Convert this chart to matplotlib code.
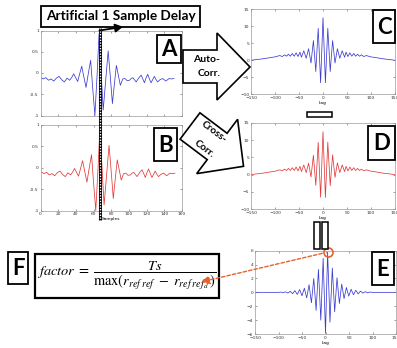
import numpy as np
import matplotlib
matplotlib.use('Agg')
import matplotlib.pyplot as plt
from matplotlib.patches import Polygon, Rectangle, FancyArrowPatch, ConnectionPatch
from matplotlib.lines import Line2D

# ---------------- data ----------------
a_samples = [0, 3, 6, 9, 12, 15, 18, 21, 24, 27, 30, 33, 35.5, 37.5, 40, 42,
             44.3, 46.6, 49, 51.5, 54, 56.7, 59, 61.5, 64, 66.2, 68.5, 70.9,
             73.7, 76.5, 79, 81.3, 83.5, 85.8, 88, 90.3, 93, 95.5, 98, 100.7,
             102.5, 104.4, 106.3, 108.2, 111, 113.8, 115.7, 117.5, 119.3, 121.2,
             123, 125, 127, 128.7, 130.5, 132.4, 135, 138, 140, 141.7, 143.5,
             145.5, 148, 151]
a_values = [-0.10, -0.14, -0.11, -0.17, -0.14, -0.19, -0.12, -0.08, -0.16, -0.21,
            -0.12, -0.17, -0.10, -0.02, -0.12, -0.20,
            -0.02, 0.16, -0.09, -0.34, -0.02, 0.30, -0.35, -1.00, -0.04, 0.92,
            0.02, -0.87, -0.18, 0.52, -0.10, -0.72, -0.27, 0.18, -0.05, -0.29,
            -0.14, -0.13, -0.18, -0.17, -0.13, -0.11, -0.16, -0.21, -0.12, -0.05,
            -0.14, -0.23, -0.12, -0.03, -0.13, -0.23, -0.15, -0.08, -0.15, -0.21,
            -0.16, -0.13, -0.16, -0.19, -0.16, -0.13, -0.14, -0.13]
delay_samples = 1
b_samples = np.array(a_samples) + delay_samples
b_values = a_values

c_lags = [-150, -140, -130, -120, -110, -100, -90, -85, -80, -76, -72, -68, -64,
          -60, -56, -52, -48, -45, -40, -35, -30, -25, -20, -15, -10, -5, 0,
          5, 10, 15, 20, 25, 30, 35, 40, 45, 48, 52, 56, 60, 64, 68, 72, 76,
          80, 85, 90, 100, 110, 120, 130, 140, 150]
c_values = [0.0, 0.2, 0.35, 0.55, 0.8, 1.0, 1.4, 1.1, 1.6, 1.2, 1.8, 1.2, 2.0,
            1.2, 2.2, 1.1, 2.4, 0.9, 2.8, 0.6, 3.4, -0.8, 5.8, -3.3, 9.4, -6.6, 12.5,
            -6.6, 9.4, -3.3, 5.8, -0.8, 3.4, 0.6, 2.8, 0.9, 2.4, 1.1, 2.2, 1.2, 2.0,
            1.2, 1.8, 1.2, 1.6, 1.1, 1.4, 1.0, 0.8, 0.55, 0.35, 0.2, 0.0]
d_values = [0.0, 0.2, 0.35, 0.55, 0.8, 1.0, 1.4, 1.1, 1.6, 1.2, 1.8, 1.2, 2.0,
            1.2, 2.2, 1.1, 2.4, 0.9, 2.8, 0.6, 3.3, -0.7, 5.6, -3.1, 9.3, -6.5, 12.4,
            -6.6, 9.4, -3.2, 5.7, -0.8, 3.4, 0.6, 2.8, 0.9, 2.4, 1.1, 2.2, 1.2, 2.0,
            1.2, 1.8, 1.2, 1.6, 1.1, 1.4, 1.0, 0.8, 0.55, 0.35, 0.2, 0.0]

e_lags = [-150, -100, -95, -90, -85, -80, -75, -70, -65, -60, -55, -50, -45, -40,
          -35, -30, -25, -20, -15, -10, -5, 0, 4.5, 9.5, 14.5, 19.5, 24.5, 29.5,
          34.5, 39.5, 44.5, 49.5, 54.5, 59.5, 64.5, 69.5, 74.5, 79.5, 84.5, 89.5,
          94.5, 100, 150]
e_values = [0, 0, 0.04, -0.05, 0.08, -0.1, 0.15, -0.2, 0.25, -0.3, 0.4, -0.5, 0.6,
            -0.8, 1.1, -1.5, 2.0, -2.6, 3.3, -4.0, 4.9, -5.9, 5.8, -4.3, 3.5, -2.8,
            2.1, -1.6, 1.2, -0.9, 0.7, -0.55, 0.45, -0.35, 0.3, -0.22, 0.18, -0.12,
            0.1, -0.06, 0.04, 0, 0]
e_peak_lag, e_peak_value = 4.5, 5.8

sample_ticks = [0, 20, 40, 60, 80, 100, 120, 140, 160]
sig_yticks = [-1, -0.5, 0, 0.5, 1]
sig_ylabels = ['-1', '-0.5', '0', '0.5', '1']
lag_ticks = [-150, -100, -50, 0, 50, 100, 150]
corr_yticks = [-10, -5, 0, 5, 10, 15]
diff_yticks = [-6, -4, -2, 0, 2, 4, 6]

title_text = 'Artificial 1 Sample Delay'

# ---------------- figure ----------------
W, H = 397, 348
plt.rcParams['mathtext.fontset'] = 'stix'
fig = plt.figure(figsize=(W / 100, H / 100), dpi=100)
fig.patch.set_facecolor('white')

def F(x, y):
    return (x / W, 1 - y / H)

def R(l, t, r, b):
    return [l / W, 1 - b / H, (r - l) / W, (b - t) / H]

BLUE = '#3b3bd2'
RED = '#e23a3a'
ORANGE = '#e8602c'

def style(ax):
    ax.tick_params(direction='in', length=1.6, width=0.4, labelsize=3.2, pad=1.2,
                   top=True, right=True, colors='#555555', labelcolor='#333333')
    for s in ax.spines.values():
        s.set_linewidth(0.5)
        s.set_color('#9a9a9a')

# A
axA = fig.add_axes(R(40.5, 30.5, 182, 115.5))
axA.plot(a_samples, a_values, color=BLUE, lw=0.55)
axA.set_xlim(0, 160); axA.set_ylim(-1, 1)
axA.set_xticks(sample_ticks); axA.set_yticks(sig_yticks, sig_ylabels)
style(axA)
axA.tick_params(labelbottom=False)

# B
axB = fig.add_axes(R(40.5, 124.7, 182, 210.5))
axB.plot(b_samples, b_values, color=RED, lw=0.55)
axB.set_xlim(0, 160); axB.set_ylim(-1, 1)
axB.set_xticks(sample_ticks); axB.set_yticks(sig_yticks, sig_ylabels)
axB.set_xlabel('Samples', fontsize=3.2, labelpad=0.8)
style(axB)

# C
axC = fig.add_axes(R(251, 9.3, 395, 94.3))
axC.plot(c_lags, c_values, color=BLUE, lw=0.55)
axC.set_xlim(-150, 150); axC.set_ylim(-10, 15)
axC.set_xticks(lag_ticks); axC.set_yticks(corr_yticks)
axC.set_xlabel('Lag', fontsize=3.2, labelpad=0.8)
style(axC)

# D
axD = fig.add_axes(R(251, 122.7, 395, 209.3))
axD.plot(c_lags, d_values, color=RED, lw=0.55)
axD.set_xlim(-150, 150); axD.set_ylim(-10, 15)
axD.set_xticks(lag_ticks); axD.set_yticks(corr_yticks)
axD.set_xlabel('Lag', fontsize=3.2, labelpad=0.8)
style(axD)

# E
axE = fig.add_axes(R(255, 250.7, 396, 334))
axE.plot(e_lags, e_values, color=BLUE, lw=0.55)
axE.set_xlim(-150, 150); axE.set_ylim(-6, 6)
axE.set_xticks(lag_ticks); axE.set_yticks(diff_yticks)
axE.set_xlabel('Lag', fontsize=3.2, labelpad=0.8)
style(axE)
axE.plot([e_peak_lag], [e_peak_value], 'o', mfc='none', mec=ORANGE, ms=6.5,
         mew=1.2, clip_on=False, zorder=10)

# ---------------- overlays ----------------
def box(l, t, r, b, lw=1.3, z=6):
    p = Rectangle(F(l, b), (r - l) / W, (b - t) / H, transform=fig.transFigure,
                  facecolor='white', edgecolor='black', lw=lw, zorder=z)
    fig.add_artist(p)

def letter_box(l, t, r, b, s):
    box(l, t, r, b)
    x, y = F((l + r) / 2, (t + b) / 2 + 0.5)
    fig.text(x, y, s, ha='center', va='center', fontsize=16, fontweight='bold',
             family=['Lato', 'DejaVu Sans'], zorder=7)

# title box
box(41, 6, 200, 27)
tx, ty = F(120.5, 16.5)
fig.text(tx, ty, title_text, ha='center', va='center', fontsize=9.8,
         fontweight='bold', family=['Lato', 'DejaVu Sans'], zorder=7)

# dashed marker line through A and B
xs, ys = zip(F(99.5, 28), F(99.5, 220))
fig.add_artist(Line2D(xs, ys, transform=fig.transFigure, color='black', lw=2.2,
                      zorder=8, solid_capstyle='butt'))
fig.add_artist(Line2D(xs, ys, transform=fig.transFigure, color='white', lw=1.0,
                      dashes=(1.0, 1.0), zorder=9))
fig.add_artist(FancyArrowPatch(F(99.5, 30.5), F(123, 26.8), transform=fig.transFigure,
                               arrowstyle='-|>,head_length=0.45,head_width=0.25',
                               mutation_scale=10, color='black', lw=1.3, zorder=9,
                               shrinkA=0, shrinkB=0))

# auto-corr arrow
auto_pts = [(183, 50), (217, 50), (217, 33), (250, 67), (217, 100), (217, 83), (183, 83)]
fig.add_artist(Polygon([F(*p) for p in auto_pts], closed=True, transform=fig.transFigure,
                       facecolor='white', edgecolor='black', lw=1.2, zorder=5))
x, y = F(206, 60)
fig.text(x, y, 'Auto-', ha='center', va='center', fontsize=7.5, fontweight='bold',
         family=['Lato', 'DejaVu Sans'], zorder=7)
x, y = F(209, 73)
fig.text(x, y, 'Corr.', ha='center', va='center', fontsize=7.5, fontweight='bold',
         family=['Lato', 'DejaVu Sans'], zorder=7)

# cross-corr arrow (rotated)
th = np.deg2rad(37)
u = np.array([np.cos(th), np.sin(th)])
n = np.array([-np.sin(th), np.cos(th)])
tail = np.array([190, 126])
local = [(0, -16.5), (34, -16.5), (34, -34), (67, 0), (34, 34), (34, 16.5), (0, 16.5)]
cross_pts = [tail + a * u + b * n for a, b in local]
fig.add_artist(Polygon([F(*p) for p in cross_pts], closed=True, transform=fig.transFigure,
                       facecolor='white', edgecolor='black', lw=1.2, zorder=5))
x, y = F(214, 132)
fig.text(x, y, 'Cross-', ha='center', va='center', fontsize=7.5, fontweight='bold',
         rotation=-37, rotation_mode='anchor', family=['Lato', 'DejaVu Sans'], zorder=7)
x, y = F(204, 149)
fig.text(x, y, 'Corr.', ha='center', va='center', fontsize=7.5, fontweight='bold',
         rotation=-37, rotation_mode='anchor', family=['Lato', 'DejaVu Sans'], zorder=7)

# operator boxes
box(306.5, 111.5, 331.5, 116.5, lw=1.1)
box(314, 222, 320, 249, lw=1.1)
box(321.5, 222, 327.5, 249, lw=1.1)

# panel letters
letter_box(157, 35, 181, 63, 'A')
letter_box(154, 128, 177, 161, 'B')
letter_box(373, 10, 395, 43, 'C')
letter_box(368, 126, 395, 160, 'D')
letter_box(372, 252, 394, 285, 'E')
letter_box(8, 252, 28, 284, 'F')

# formula
box(35, 254, 219, 298, lw=1.6)
x, y = F(127, 276)
fig.text(x, y, r'$factor\;=\;\dfrac{Ts}{\max(r_{ref\;ref}\;-\;r_{ref\;ref_d}\,)}$',
         ha='center', va='center', fontsize=10.4, zorder=7)

# red dashed arrow from E peak to formula
fig.add_artist(ConnectionPatch(xyA=(e_peak_lag, e_peak_value), coordsA=axE.transData,
                               xyB=F(201, 282), coordsB=fig.transFigure,
                               arrowstyle='-|>,head_length=0.5,head_width=0.25',
                               mutation_scale=10, color=ORANGE, lw=1.0,
                               linestyle=(0, (2.5, 1.5)), shrinkA=4, shrinkB=0,
                               zorder=9))

fig.savefig('out.png', dpi=100)
